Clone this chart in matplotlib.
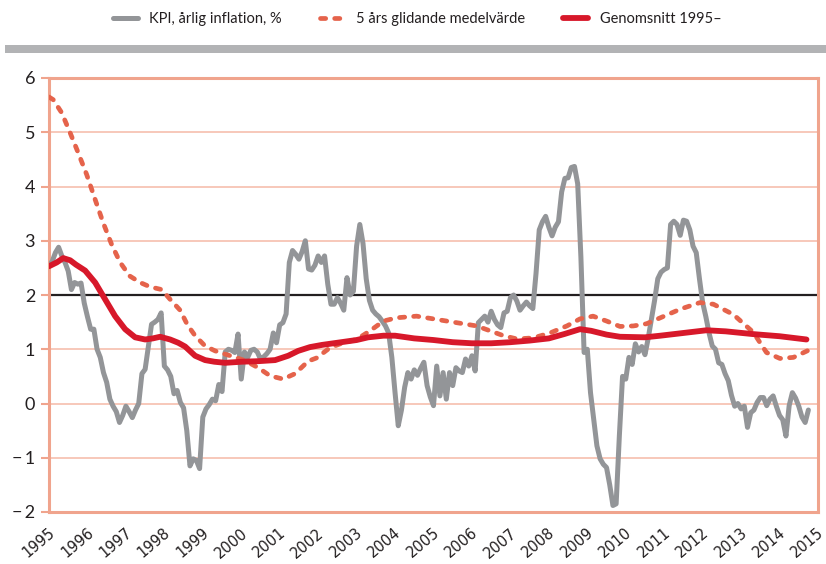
import numpy as np
import matplotlib
matplotlib.use("Agg")
import matplotlib.pyplot as plt
from matplotlib.patches import Rectangle
from matplotlib.transforms import ScaledTranslation

plt.rcParams['font.family'] = ['Lato', 'DejaVu Sans']

# KPI, årlig inflation (%), månadsvärden jan 1995 - okt 2014
kpi_1995 = [2.55, 2.62, 2.78, 2.88, 2.72, 2.60, 2.44, 2.10, 2.23, 2.20, 2.22, 1.85]
kpi_1996 = [1.60, 1.37, 1.37, 1.00, 0.85, 0.57, 0.39, 0.08, -0.05, -0.15, -0.35, -0.22]
kpi_1997 = [-0.05, -0.15, -0.26, -0.12, 0.00, 0.55, 0.63, 1.05, 1.46, 1.50, 1.55, 1.67]
kpi_1998 = [0.69, 0.62, 0.50, 0.18, 0.24, 0.02, -0.08, -0.50, -1.15, -1.02, -1.05, -1.20]
kpi_1999 = [-0.25, -0.10, -0.02, 0.08, 0.05, 0.35, 0.22, 0.95, 1.00, 0.98, 0.94, 1.28]
kpi_2000 = [0.45, 0.95, 0.85, 0.98, 1.00, 0.95, 0.82, 0.86, 0.92, 1.00, 1.30, 1.12]
kpi_2001 = [1.45, 1.49, 1.65, 2.60, 2.82, 2.75, 2.66, 2.80, 3.00, 2.48, 2.46, 2.55]
kpi_2002 = [2.72, 2.60, 2.72, 2.20, 1.83, 1.83, 1.95, 1.85, 1.72, 2.32, 2.00, 2.07]
kpi_2003 = [2.90, 3.30, 2.95, 2.30, 1.90, 1.72, 1.65, 1.60, 1.52, 1.43, 1.30, 0.85]
kpi_2004 = [0.20, -0.41, -0.12, 0.30, 0.57, 0.45, 0.62, 0.52, 0.65, 0.76, 0.33, 0.12]
kpi_2005 = [-0.04, 0.69, 0.14, 0.57, 0.08, 0.57, 0.33, 0.66, 0.60, 0.57, 0.82, 0.69]
kpi_2006 = [0.88, 0.60, 1.49, 1.55, 1.61, 1.50, 1.70, 1.55, 1.45, 1.40, 1.67, 1.70]
kpi_2007 = [1.95, 2.00, 1.89, 1.72, 1.80, 1.87, 1.80, 1.75, 2.40, 3.20, 3.35, 3.45]
kpi_2008 = [3.25, 3.09, 3.25, 3.35, 3.90, 4.15, 4.16, 4.35, 4.37, 4.05, 2.70, 0.94]
kpi_2009 = [1.00, 0.20, -0.29, -0.78, -1.02, -1.12, -1.18, -1.50, -1.88, -1.85, -0.60, 0.50]
kpi_2010 = [0.45, 0.85, 0.72, 1.10, 0.95, 1.05, 0.90, 1.20, 1.55, 1.90, 2.30, 2.42]
kpi_2011 = [2.47, 2.50, 3.30, 3.36, 3.30, 3.10, 3.38, 3.36, 3.20, 2.90, 2.78, 2.30]
kpi_2012 = [1.86, 1.60, 1.30, 1.06, 1.00, 0.75, 0.72, 0.55, 0.42, 0.15, -0.05, 0.00]
kpi_2013 = [-0.10, -0.05, -0.44, -0.17, -0.12, 0.02, 0.11, 0.11, -0.04, 0.08, 0.14, -0.05]
kpi_2014 = [-0.22, -0.30, -0.60, -0.04, 0.20, 0.10, -0.05, -0.25, -0.35, -0.12]

kpi = (kpi_1995 + kpi_1996 + kpi_1997 + kpi_1998 + kpi_1999 + kpi_2000 + kpi_2001
       + kpi_2002 + kpi_2003 + kpi_2004 + kpi_2005 + kpi_2006 + kpi_2007 + kpi_2008
       + kpi_2009 + kpi_2010 + kpi_2011 + kpi_2012 + kpi_2013 + kpi_2014)
kpi_x = 1995 + np.arange(len(kpi)) / 12

# 5 års glidande medelvärde
ma_x = [1995.0, 1995.11, 1995.33, 1995.55, 1995.76, 1995.98, 1996.2, 1996.41, 1996.63,
        1996.85, 1997.1, 1997.37, 1997.63, 1997.93, 1998.15, 1998.41, 1998.6, 1998.8,
        1999.06, 1999.32, 1999.58, 1999.85, 2000.1, 2000.44, 2000.75, 2001.09, 2001.4,
        2001.74, 2001.96, 2002.31, 2002.65, 2003.0, 2003.35, 2003.7, 2004.04, 2004.56,
        2005.08, 2005.6, 2006.12, 2006.47, 2006.82, 2007.17, 2007.6, 2008.03, 2008.47,
        2008.81, 2009.15, 2009.5, 2009.85, 2010.2, 2010.54, 2010.9, 2011.42, 2011.93,
        2012.28, 2012.8, 2013.32, 2013.66, 2014.01, 2014.36, 2014.75]
ma_y = [5.65, 5.6, 5.36, 4.99, 4.62, 4.22, 3.76, 3.33, 2.93,
        2.6, 2.35, 2.23, 2.15, 2.1, 1.92, 1.72, 1.45, 1.25,
        1.06, 0.97, 0.91, 0.85, 0.79, 0.66, 0.51, 0.45, 0.55,
        0.78, 0.84, 1.03, 1.12, 1.18, 1.34, 1.52, 1.58, 1.61,
        1.55, 1.49, 1.43, 1.34, 1.25, 1.19, 1.21, 1.3, 1.43,
        1.56, 1.61, 1.52, 1.42, 1.43, 1.47, 1.58, 1.74, 1.86,
        1.83, 1.64, 1.31, 0.94, 0.83, 0.85, 0.98]

# Genomsnitt 1995-
avg_x = [1995.0, 1995.2, 1995.37, 1995.55, 1995.7, 1995.94, 1996.2, 1996.46, 1996.72,
         1996.98, 1997.24, 1997.5, 1997.7, 1997.89, 1998.15, 1998.36, 1998.54, 1998.8,
         1999.06, 1999.3, 1999.58, 2000.01, 2000.44, 2000.88, 2001.22, 2001.48, 2001.79,
         2002.1, 2002.5, 2003.0, 2003.3, 2003.7, 2004.0, 2004.5, 2005.0, 2005.5, 2006.0,
         2006.5, 2007.0, 2007.5, 2008.0, 2008.4, 2008.81, 2009.1, 2009.5, 2009.85, 2010.5,
         2010.9, 2011.5, 2012.1, 2012.6, 2013.3, 2014.0, 2014.7]
avg_y = [2.53, 2.6, 2.68, 2.64, 2.56, 2.45, 2.23, 1.92, 1.61,
         1.37, 1.22, 1.18, 1.2, 1.23, 1.18, 1.12, 1.05, 0.88,
         0.8, 0.77, 0.75, 0.77, 0.78, 0.8, 0.88, 0.97, 1.04,
         1.08, 1.12, 1.17, 1.22, 1.25, 1.25, 1.2, 1.17, 1.13, 1.11,
         1.11, 1.13, 1.16, 1.2, 1.28, 1.37, 1.34, 1.27, 1.23, 1.22,
         1.25, 1.3, 1.35, 1.33, 1.28, 1.24, 1.18]

years = list(range(1995, 2016))
y_ticks = [-2, -1, 0, 1, 2, 3, 4, 5, 6]
y_labels = ['\u2212\u20092', '\u2212\u20091', '0', '1', '2', '3', '4', '5', '6']

salmon = '#f0a48d'
grid_c = '#f7c4b4'
txt_c = '#231f20'

fig = plt.figure(figsize=(8.26, 5.64), dpi=100)
ax = fig.add_axes([49 / 826, 1 - 512 / 564, 769 / 826, 434 / 564])

ax.axhline(2, color=txt_c, lw=1.6, zorder=2)
l_kpi, = ax.plot(kpi_x, kpi, color='#939598', lw=3.6, zorder=3,
                 solid_joinstyle='round', solid_capstyle='round')
l_ma, = ax.plot(ma_x, ma_y, color='#e5634b', lw=3.4, zorder=4,
                dashes=(1.1, 1.9), dash_capstyle='round')
l_avg, = ax.plot(avg_x, avg_y, color='#d7182a', lw=4.2, zorder=5,
                 solid_capstyle='round')

ax.set_xlim(1995, 2015)
ax.set_ylim(-2, 6)
ax.set_yticks(y_ticks)
ax.set_yticklabels(y_labels)
ax.set_xticks(years)
ax.set_xticklabels([str(y) for y in years], family=['DejaVu Sans'])
ax.yaxis.grid(True, color=grid_c, lw=1.3, zorder=0)
ax.set_axisbelow(True)

for s in ax.spines.values():
    s.set_color(salmon)
    s.set_linewidth(2.2)

ax.tick_params(axis='y', direction='out', length=6, width=1.5, color=salmon,
               labelsize=13, labelcolor=txt_c, pad=4)
ax.tick_params(axis='x', length=0, labelsize=10.5, labelcolor=txt_c, pad=0)
off = ScaledTranslation(4 / 100, -19 / 100, fig.dpi_scale_trans)
for lab in ax.get_xticklabels():
    lab.set_rotation(40)
    lab.set_ha('right')
    lab.set_va('center')
    lab.set_rotation_mode('anchor')
    lab.set_transform(lab.get_transform() + off)

# grå list under förklaringen
fig.patches.append(Rectangle((5 / 826, 1 - 53 / 564), 821 / 826, 8 / 564,
                             transform=fig.transFigure, color='#b2b3b5', lw=0))

fig.legend([l_kpi, l_ma, l_avg],
           ['KPI, årlig inflation, %', '5 års glidande medelvärde', 'Genomsnitt 1995\u2013'],
           loc='center', bbox_to_anchor=(0.505, 1 - 19 / 564), ncol=3, frameon=False,
           fontsize=10.5, handlelength=1.7, handletextpad=0.8, columnspacing=2.6,
           labelcolor=txt_c)

fig.savefig('out.png', dpi=100)
